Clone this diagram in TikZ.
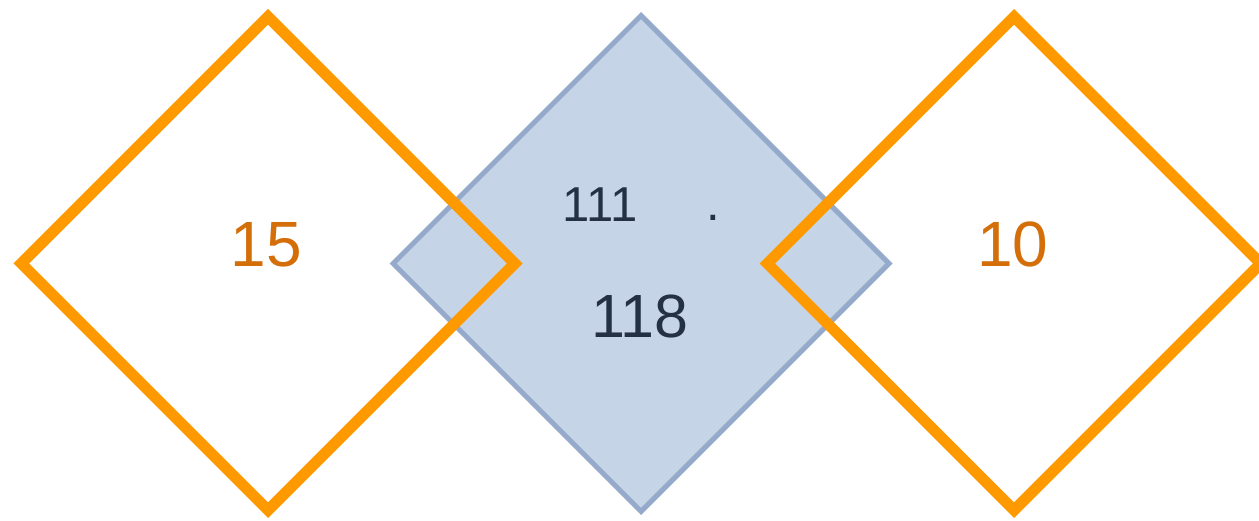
\documentclass[tikz,border=0pt]{standalone}
\usepackage{fontspec}
\setmainfont{Liberation Sans}
\usetikzlibrary{shapes.geometric}
\definecolor{sqorange}{RGB}{255,153,0}
\definecolor{numorange}{RGB}{212,110,8}
\definecolor{sqblue}{RGB}{198,212,232}
\definecolor{sqedge}{RGB}{149,170,203}
\definecolor{numdark}{RGB}{36,49,69}

\begin{document}
\begin{tikzpicture}[x=1pt,y=-1pt,
    sq/.style={diamond,shape aspect=1,minimum width=498pt,minimum height=498pt,inner sep=0pt},
    num/.style={anchor=base,inner sep=0pt}]
  \useasboundingbox (0,0) rectangle (1259,521);

  % middle square first, the orange ones lie over it
  \node[sq, fill=sqblue, draw=sqedge, line width=5pt] (mid) at (641,263.5) {};
  \node[sq, draw=sqorange, line width=11pt, miter limit=10] (left) at (268,263.5) {};
  \node[sq, draw=sqorange, line width=11pt, miter limit=10] (right) at (1014,263.5) {};

  \node[num, text=numorange, font=\fontsize{64}{64}\selectfont] (n15) at (266.5,267) {15};
  \node[num, text=numorange, font=\fontsize{64}{64}\selectfont] (n10) at (1013,267) {10};
  \node[num, text=numdark, font=\fontsize{49}{49}\selectfont] (n111) at (600,222) {111};
  \node[num, text=numdark, font=\fontsize{49}{49}\selectfont] (ndot) at (713.5,221) {.};
  \node[num, text=numdark, font=\fontsize{61}{61}\selectfont] (n118) at (640,338) {118};
\end{tikzpicture}
\end{document}
